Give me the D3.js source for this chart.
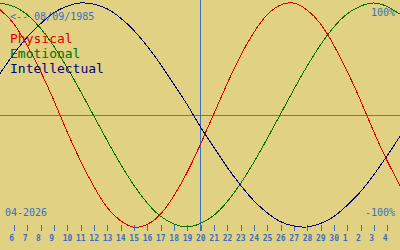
<!DOCTYPE html>
<html>
<head>
<meta charset="utf-8">
<script src="https://cdn.jsdelivr.net/npm/d3@7"></script>
<style>
    html, body { margin: 0; padding: 0; background: #e0d282; }
    #chart { width: 400px; height: 250px; }
    text { font-family: "DejaVu Sans Mono", monospace; }
</style>
</head>
<body>
<div id="chart"></div>
<script>
/* * * * * * * * * * * * * *
*     biorhythm chart      *
* * * * * * * * * * * * * */

// one entry per day, 05 april 2026 .. 05 may 2026
let dayLabels = ["5", "6", "7", "8", "9", "10", "11", "12", "13", "14", "15", "16", "17", "18", "19", "20",
    "21", "22", "23", "24", "25", "26", "27", "28", "29", "30", "1", "2", "3", "4", "5"];

// values in percent
let physical = [94, 82, 63, 40, 14, -14, -40, -63, -82, -94, -100, -98, -89, -73, -52, -27,
    0, 27, 52, 73, 89, 98, 100, 94, 82, 63, 40, 14, -14, -40, -63];
let emotional = [100, 97, 90, 78, 62, 43, 22, 0, -22, -43, -62, -78, -90, -97, -100, -97,
    -90, -78, -62, -43, -22, 0, 22, 43, 62, 78, 90, 97, 100, 97, 90];
let intellectual = [37, 54, 69, 81, 91, 97, 100, 99, 95, 87, 76, 62, 46, 28, 10, -10,
    -28, -46, -62, -76, -87, -95, -99, -100, -97, -91, -81, -69, -54, -37, -19];

let seriesNames = ["Physical", "Emotional", "Intellectual"];
let birthLabel = "<-- 08/09/1985";
let monthLabel = "04-2026";
let todayIndex = 15;

let seriesColors = ["#e00000", "#007000", "#000080"];
let textBlue = "#3a6ec4";

class BiorhythmVis {

    constructor(parentElement) {
        this.parentElement = parentElement;
        this.initVis();
    }

    initVis() {
        let vis = this;

        vis.width = 400;
        vis.height = 250;

        vis.svg = d3.select("#" + vis.parentElement).append("svg")
            .attr("width", vis.width)
            .attr("height", vis.height);

        vis.svg.append("rect")
            .attr("width", vis.width)
            .attr("height", vis.height)
            .attr("fill", "#e0d282");

        // scales
        vis.x = d3.scaleLinear().domain([0, dayLabels.length - 1]).range([0, vis.width]);
        vis.y = d3.scaleLinear().domain([-100, 100]).range([227, 3]);

        vis.updateVis();
    }

    updateVis() {
        let vis = this;

        // zero line
        vis.svg.append("line")
            .attr("x1", 0).attr("x2", vis.width)
            .attr("y1", Math.round(vis.y(0)) + 0.5).attr("y2", Math.round(vis.y(0)) + 0.5)
            .attr("stroke", "#8a7a26")
            .attr("shape-rendering", "crispEdges");

        // today line
        vis.svg.append("line")
            .attr("x1", vis.x(todayIndex) + 0.5).attr("x2", vis.x(todayIndex) + 0.5)
            .attr("y1", 0).attr("y2", 231)
            .attr("stroke", textBlue)
            .attr("shape-rendering", "crispEdges");

        // day axis (ticks at every day, none at the two edges)
        let tickIdx = d3.range(1, dayLabels.length - 1);
        let axis = d3.axisBottom(vis.x)
            .tickValues(tickIdx)
            .tickSize(6)
            .tickFormat(i => dayLabels[i]);

        let g = vis.svg.append("g")
            .attr("transform", "translate(0.5, 225)")
            .call(axis);
        g.select(".domain").remove();
        g.selectAll(".tick line")
            .attr("stroke", textBlue)
            .attr("shape-rendering", "crispEdges");
        g.selectAll(".tick text")
            .attr("y", 16)
            .attr("dy", 0)
            .attr("x", -5)
            .attr("text-anchor", "start")
            .attr("fill", textBlue)
            .style("font-family", "'DejaVu Sans Mono', monospace")
            .style("font-size", "8px")
            .style("font-weight", "bold");

        // curves
        let line = d3.line()
            .x((d, i) => vis.x(i))
            .y(d => vis.y(d))
            .curve(d3.curveNatural);

        [physical, emotional, intellectual].forEach((values, k) => {
            vis.svg.append("path")
                .datum(values)
                .attr("d", line)
                .attr("fill", "none")
                .attr("stroke", seriesColors[k])
                .attr("stroke-width", 1)
                .attr("shape-rendering", "crispEdges");
        });

        // legend
        vis.svg.selectAll(".legend-text")
            .data(seriesNames)
            .enter()
            .append("text")
            .attr("class", "legend-text")
            .attr("x", 10)
            .attr("y", (d, i) => 43 + i * 15)
            .style("font-size", "13px")
            .attr("fill", (d, i) => seriesColors[i])
            .text(d => d);

        // labels
        let small = [
            {t: birthLabel, x: 10, y: 20, anchor: "start"},
            {t: "100%", x: 395, y: 16, anchor: "end"},
            {t: monthLabel, x: 5, y: 216, anchor: "start"},
            {t: "-100%", x: 395, y: 216, anchor: "end"}
        ];
        vis.svg.selectAll(".small-text")
            .data(small)
            .enter()
            .append("text")
            .attr("class", "small-text")
            .attr("x", d => d.x)
            .attr("y", d => d.y)
            .attr("text-anchor", d => d.anchor)
            .style("font-size", "10px")
            .attr("fill", textBlue)
            .text(d => d.t);
    }
}

let myBiorhythmVis = new BiorhythmVis("chart");
</script>
</body>
</html>
